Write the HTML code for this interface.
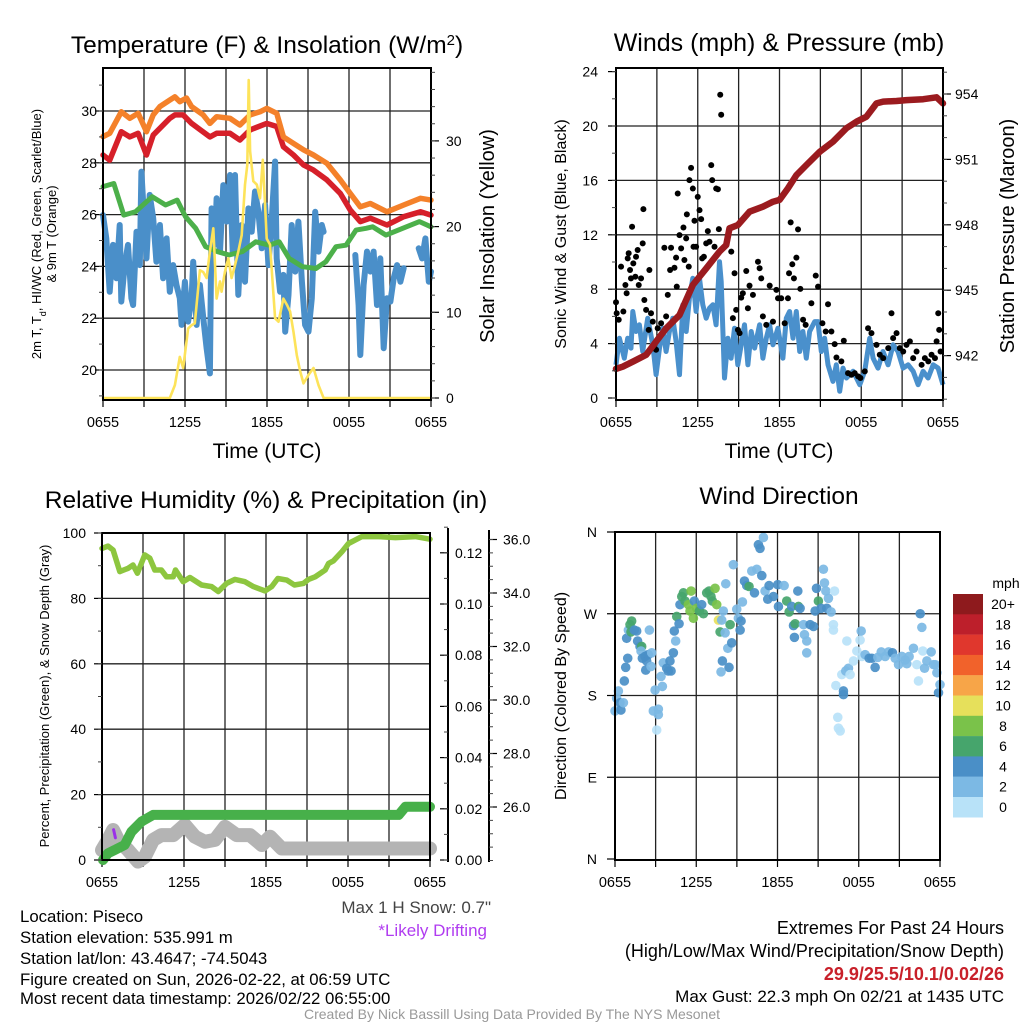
<!DOCTYPE html>
<html><head><meta charset="utf-8"><style>
html,body{margin:0;padding:0;background:#fff;}
svg{display:block;font-family:"Liberation Sans",Arial,sans-serif;}
</style></head><body>
<svg id="chart" width="1024" height="1024" viewBox="0 0 1024 1024" xmlns="http://www.w3.org/2000/svg">
<rect width="1024" height="1024" fill="#fff"/>
<text x="267" y="53" font-size="24.5" text-anchor="middle">Temperature (F) &amp; Insolation (W/m<tspan baseline-shift="super" font-size="15">2</tspan>)</text>
<text x="779" y="51" font-size="25" text-anchor="middle">Winds (mph) &amp; Pressure (mb)</text>
<text x="266" y="508" font-size="24.5" text-anchor="middle">Relative Humidity (%) &amp; Precipitation (in)</text>
<text x="779" y="504" font-size="24.5" text-anchor="middle">Wind Direction</text>
<text x="267" y="458" font-size="21" text-anchor="middle">Time (UTC)</text>
<text x="779" y="458" font-size="21" text-anchor="middle">Time (UTC)</text>
<text font-size="13" text-anchor="middle" transform="translate(41,234) rotate(-90)">2m T, T<tspan baseline-shift="sub" font-size="9">d</tspan>, HI/WC (Red, Green, Scarlet/Blue)</text>
<text font-size="13" text-anchor="middle" transform="translate(56,234) rotate(-90)">&amp; 9m T (Orange)</text>
<text font-size="20" text-anchor="middle" transform="translate(494,236) rotate(-90)">Solar Insolation (Yellow)</text>
<text font-size="16" text-anchor="middle" transform="translate(566,234) rotate(-90)">Sonic Wind &amp; Gust (Blue, Black)</text>
<text font-size="20" text-anchor="middle" transform="translate(1014,236) rotate(-90)">Station Pressure (Maroon)</text>
<text font-size="13" text-anchor="middle" transform="translate(49,696) rotate(-90)">Percent, Precipitation (Green), &amp; Snow Depth (Gray)</text>
<text font-size="16" text-anchor="middle" transform="translate(566,696) rotate(-90)">Direction (Colored By Speed)</text>
<g font-size="16.8">
<text x="20" y="922">Location: Piseco</text>
<text x="20" y="943">Station elevation: 535.991 m</text>
<text x="20" y="964">Station lat/lon: 43.4647; -74.5043</text>
<text x="20" y="985">Figure created on Sun, 2026-02-22, at 06:59 UTC</text>
<text x="20" y="1004">Most recent data timestamp: 2026/02/22 06:55:00</text>
</g>
<text x="491" y="913" font-size="17" fill="#444" text-anchor="end">Max 1 H Snow: 0.7"</text>
<text x="487" y="936" font-size="17" fill="#b03cf0" text-anchor="end">*Likely Drifting</text>
<g font-size="18" text-anchor="end">
<text x="1004" y="934">Extremes For Past 24 Hours</text>
<text x="1004" y="957">(High/Low/Max Wind/Precipitation/Snow Depth)</text>
<text x="1004" y="980" fill="#c8202a" font-weight="bold">29.9/25.5/10.1/0.02/26</text>
<text x="1004" y="1002" font-size="17">Max Gust: 22.3 mph On 02/21 at 1435 UTC</text>
</g>
<text x="512" y="1019" font-size="14" fill="#999" text-anchor="middle">Created By Nick Bassill Using Data Provided By The NYS Mesonet</text>
</svg>
<script>
// ---------- Panel 1: temperature ----------
const xTickLabels = ["0655","1255","1855","0055","0655"];
const orangeT = [0,.49,1.34,1.96,2.57,3.18,3.67,4.16,4.89,5.26,5.62,6.11,6.48,7.33,7.82,8.31,9.29,10.02,10.76,11.49,11.98,12.71,13.2,13.94,14.67,15.4,16.38,17.36,18.09,18.83,19.56,20.78,22.0,23.23,24];
const orangeV = [29.01,29.14,29.97,29.72,29.91,29.2,29.85,30.17,30.42,30.55,30.36,30.5,30.17,29.85,29.52,29.78,29.72,29.46,29.85,29.97,30.1,29.91,29.0,28.75,28.5,28.3,27.98,27.34,26.82,26.3,26.43,26.11,26.37,26.63,26.56];
const redT = [0,.49,1.34,1.96,2.57,3.18,3.67,4.89,5.26,5.87,6.48,7.82,8.31,9.29,10.02,10.76,11.98,12.71,13.2,13.94,14.67,15.4,16.38,17.36,18.09,18.83,19.56,20.78,22.0,23.23,24];
const redV = [28.3,28.1,29.2,29.0,29.14,28.3,29.07,29.72,29.85,29.85,29.52,29.0,29.14,29.14,28.88,29.27,29.52,29.4,28.62,28.3,27.92,27.72,27.34,26.82,26.18,25.73,25.86,25.6,25.92,26.11,25.98];
const greenT = [0,.79,1.52,2.37,3.6,4.58,5.43,6.04,6.78,7.51,8.37,9.22,10.2,11.18,12.16,12.89,13.62,14.6,15.58,16.31,17.05,17.78,18.51,19.25,19.73,20.71,21.93,23.16,24];
const greenV = [27.08,27.2,25.98,26.11,26.69,26.37,26.56,25.92,25.47,24.76,24.57,24.44,24.57,24.95,24.82,24.95,24.31,23.99,23.92,24.18,24.76,24.82,25.4,25.47,25.53,25.21,25.47,25.73,25.53];
const blueT = [0,.24,.49,.73,.98,1.22,1.34,1.59,1.83,2.08,2.2,2.45,2.69,2.81,2.98,3.18,3.42,3.67,3.91,4.16,4.4,4.65,4.89,5.13,5.38,5.62,5.75,5.99,6.23,6.48,6.6,6.85,7.09,7.34,7.58,7.82,7.95,8.19,8.31,8.56,8.8,9.05,9.29,9.49,9.66,9.9,10.15,10.39,10.64,10.88,11.12,11.37,11.61,11.86,12.1,12.35,12.59,12.71,12.96,13.2,13.33,13.57,13.81,14.06,14.3,14.55,14.79,15.04,15.28,15.53,15.77,16.01,16.14,17.3,18.46,18.7,18.83,19.07,19.32,19.56,19.8,20.05,20.29,20.54,20.78,21.03,21.27,21.52,21.76,22.0,22.5,23.1,23.35,23.59,23.84,24];
const blueV = [25.98,25.08,23.02,24.83,23.54,25.6,22.64,24.05,24.83,22.77,22.51,25.34,24.05,27.66,26.11,24.31,26.76,25.86,24.18,25.6,23.54,25.08,23.02,24.05,23.28,22.77,21.74,23.41,21.87,22.77,24.18,21.74,23.28,22.0,20.84,19.87,26.24,24.83,26.63,24.57,27.14,25.73,27.53,24.57,27.53,22.9,25.6,23.41,26.24,25.34,26.89,26.11,24.7,26.37,24.05,25.86,28.05,24.31,23.02,23.67,21.48,22.9,25.6,23.8,25.73,23.41,21.74,21.48,22.77,26.11,24.57,25.6,25.34,null,24.44,22.51,20.58,23.28,24.57,23.8,24.57,22.51,24.31,20.84,22.77,22.64,23.54,24.05,23.41,23.93,null,24.7,24.31,25.08,23.41,23.8];
const solarT = [0,4.89,5.26,5.62,5.87,6.23,6.48,6.72,7.09,7.33,7.58,7.82,8.07,8.31,8.56,8.68,8.92,9.17,9.41,9.66,9.9,10.15,10.39,10.56,10.66,10.76,11.0,11.25,11.49,11.69,11.86,11.98,12.22,12.59,12.84,13.2,13.45,13.69,13.94,14.18,14.43,14.67,15.04,15.4,15.77,16.14,24];
const solarV = [0,0,1.5,4.8,3.5,8.1,8.5,8.7,14.9,14.7,14.0,17.1,19.8,11.6,13.6,12.4,14.7,16.3,14.0,15.5,17.1,19.0,24.9,27.2,37.1,28.8,25.3,24.9,23.3,27.8,22.5,18.6,17.9,9.3,8.9,11.6,10.9,10.1,7.7,5.0,3.1,1.7,2.7,3.5,1.5,0,0];
const tempTicks = [20,22,24,26,28,30];
const solarTicks = [0,10,20,30];
// ---------- Panel 2: wind ----------
const windT = [0,.25,.61,.86,1.1,1.23,1.47,1.72,1.96,2.33,2.7,2.94,3.19,3.43,3.68,3.92,4.17,4.41,4.66,4.9,5.15,5.39,5.64,5.88,6.13,6.37,6.62,6.86,7.11,7.35,7.6,7.72,7.96,8.21,8.45,8.7,8.94,9.19,9.43,9.68,9.92,10.17,10.54,10.78,11.03,11.27,11.52,11.88,12.25,12.5,12.74,12.99,13.23,13.48,13.72,13.97,14.21,14.58,14.82,15.07,15.31,15.56,15.93,16.17,16.42,16.66,16.91,17.4,17.89,18.25,18.62,18.87,19.23,19.6,19.97,20.34,20.7,21.07,21.44,21.81,22.17,22.54,22.91,23.28,23.64,24];
const windV = [2.44,4.4,2.93,4.4,3.67,6.36,4.89,5.38,3.42,5.87,3.91,1.71,3.67,5.13,3.42,4.89,5.87,4.16,1.71,6.85,4.89,7.33,8.8,6.36,8.8,6.85,5.87,6.6,6.85,5.38,10.02,8.56,1.47,4.4,2.93,5.13,2.44,3.91,5.38,2.44,4.89,3.67,5.38,2.93,4.4,5.38,3.91,5.13,2.93,5.87,6.36,4.4,6.36,3.42,4.89,2.93,4.89,5.62,5.62,3.42,4.4,2.44,1.22,2.44,0.49,2.2,1.47,1.96,0.98,1.96,4.4,2.93,2.2,3.42,2.44,3.91,3.42,2.2,2.44,1.96,0.98,1.96,1.47,2.44,2.2,0.98];
const gustT = [0,.05,.2,.37,.54,.69,.78,.86,.93,1.03,
1.1,1.18,1.27,1.42,1.47,1.59,1.67,1.84,1.96,2.01,
2.08,2.21,2.4,2.45,2.57,2.7,2.94,3.06,3.31,3.55,
3.68,3.8,3.97,4.04,4.29,4.41,4.46,4.53,4.66,4.78,
4.95,5.02,5.15,5.2,5.34,5.39,5.51,5.64,5.69,5.76,
5.88,6.0,6.13,6.25,6.32,6.45,6.62,6.74,6.86,6.99,
7.06,7.23,7.35,7.48,7.55,7.65,7.72,8.46,8.7,8.58,
8.82,8.95,9.07,9.19,9.31,9.56,9.68,9.8,10.05,10.42,
10.54,10.66,10.78,11.03,11.28,11.52,11.77,11.89,12.13,12.38,
12.62,12.7,12.82,12.94,13.06,13.24,13.36,13.53,13.73,13.92,
14.34,14.66,14.83,15.15,15.39,15.56,15.81,16.05,16.18,16.54,
16.72,17.03,17.28,17.52,17.77,17.94,18.26,18.5,18.75,19.12,
19.36,19.61,19.98,20.22,20.34,20.59,20.83,21.08,21.32,21.57,
21.81,22.06,22.43,22.67,22.92,23.16,23.41,23.53,23.65,23.72,
23.82];
const gustV = [7.04,6.23,5.75,9.66,6.36,8.31,7.7,10.27,10.64,9.41,
8.8,12.59,9.9,8.92,10.39,10.88,8.31,8.8,11.37,13.89,
7.21,6.48,5.01,9.41,6.23,5.62,3.55,5.13,5.5,11.05,
6.0,7.58,9.41,11.05,9.58,10.32,8.19,15.04,11.98,11.0,
12.54,10.15,11.74,13.5,9.66,16.02,16.92,15.4,11.12,13.03,
11.12,14.79,13.81,13.15,10.27,10.39,11.37,12.27,11.49,17.12,
16.02,11.12,15.4,15.35,12.42,22.3,20.83,10.76,9.17,5.87,
6.48,5.01,4.77,7.38,7.7,9.34,6.6,8.26,7.58,10.02,
9.54,8.8,6.0,5.38,8.26,5.62,7.95,7.33,7.33,5.5,
7.33,9.17,12.91,9.83,8.8,10.32,12.4,8.02,5.75,5.38,
6.97,9.0,8.19,5.5,4.89,6.89,4.89,3.96,2.98,2.69,
4.21,1.83,1.71,1.83,1.59,1.47,1.96,5.13,4.77,3.91,
3.18,2.93,3.67,6.23,4.4,4.77,3.67,3.42,3.91,4.16,
2.93,3.42,2.44,2.93,2.69,3.18,2.93,4.16,6.23,5.01,
3.42];
const presT = [0,.49,1.23,2.21,2.94,3.68,4.66,5.64,6.62,7.6,8.09,8.33,8.95,9.8,10.78,11.52,12.01,12.62,13.24,13.97,14.95,15.93,16.91,17.65,18.38,19.12,19.61,20.59,21.32,22.55,23.53,24];
const presV = [941.39,941.49,941.72,942.03,942.64,943.25,943.86,945.24,946.0,946.77,947.07,947.84,947.99,948.6,948.83,949.06,949.14,949.67,950.28,950.74,951.35,951.81,952.43,952.73,952.96,953.57,953.65,953.68,953.72,953.76,953.85,953.57];
const windTicks = [0,4,8,12,16,20,24];
const presTicks = [942,945,948,951,954];
// ---------- Panel 3: RH / precip / snow ----------
const rhT = [0,.44,.81,1.3,1.91,2.27,2.59,3.13,3.5,3.86,4.35,4.72,5.21,5.38,5.94,6.43,7.29,8.02,8.51,9.12,9.73,10.46,11.08,11.93,12.42,12.86,13.52,14.08,14.74,15.11,15.6,16.33,16.58,16.94,17.56,18.04,19.02,20.24,21.47,22.93,24];
const rhV = [95.3,96,94.8,88.2,89.2,90.2,87.7,93.3,92.3,88.7,88.7,86.6,86.6,88.7,85.1,86.4,84.1,83.6,82.1,84.6,85.8,85.1,83.6,82.3,83.6,86.1,85.6,84.1,84.6,85.8,86.6,88.7,90.7,91.5,94.3,96.8,98.9,98.9,98.6,98.9,98.1];
const precipT = [0.07,.44,.93,1.66,2.15,2.89,3.74,21.71,22.2,24];
const precipV = [0,.0026,.0039,.0059,.011,.015,.0176,.0176,.0208,.0208];
const snowT = [0,.44,.81,1.17,1.91,2.64,3.13,3.74,4.35,5.21,6.06,6.8,7.53,8.26,9.0,9.85,10.83,11.69,12.3,13.15,24];
const snowV = [24.39,24.77,25.14,24.77,24.39,23.96,24.14,24.77,24.95,24.95,25.33,24.89,24.7,24.77,25.26,24.95,24.95,24.58,24.89,24.45,24.45];
const driftT = [0.85,0.98];
const driftV = [25.15,24.85];
const rhTicks = [0,20,40,60,80,100];
const precipTicks = [0,0.02,0.04,0.06,0.08,0.10,0.12];
const snowTicks = [26,28,30,32,34,36];
// ---------- Panel 4: wind direction ----------
const dirT = [0,.12,.25,.37,.44,.62,.69,.79,.94,.86,
.99,1.11,1.23,1.18,1.43,1.6,1.67,1.85,1.97,1.92,
2.02,2.22,2.34,2.46,2.27,2.71,2.66,2.54,2.96,2.83,
3.2,3.2,3.08,3.4,3.5,3.57,3.82,3.94,4.14,4.06,
4.31,4.38,4.48,4.56,4.73,4.8,4.93,5.05,5.17,5.42,
5.62,5.54,5.79,5.86,6.03,6.23,6.4,6.53,6.77,6.95,
7.09,7.19,7.39,7.51,7.64,7.76,7.88,8.0,8.13,8.18,
8.33,8.42,8.5,8.62,8.74,7.83,7.93,8.99,9.11,9.24,
9.31,9.41,9.56,9.73,9.9,10.1,10.3,10.47,10.59,10.71,
10.96,10.84,11.08,11.28,11.38,11.7,12.02,12.07,12.49,12.68,
12.86,13.05,13.18,13.25,13.3,13.5,13.55,13.67,13.92,13.99,
14.16,14.16,14.41,14.66,14.78,14.88,15.02,15.22,15.39,15.47,
15.57,15.64,15.76,15.96,16.13,16.21,16.13,16.31,16.45,16.5,
16.63,16.75,16.87,16.87,17.04,17.24,17.12,17.36,17.61,17.86,
18.1,18.18,18.23,18.47,18.77,18.97,19.21,19.41,19.66,19.95,
20.2,20.49,20.69,20.94,21.18,21.43,21.55,21.72,22.04,22.29,
22.41,22.54,22.66,22.73,22.86,23.03,23.35,23.52,23.65,23.77,
23.89,24];
const dirV = [163,177,185,172,164,172,196,211,221,243,
252,258,262,250,252,251,240,234,234,229,
221,223,218,225,208,227,212,252,186,163,
165,159,142,201,190,216,210,207,207,218,
227,251,240,267,259,280,289,293,284,280,
295,273,265,284,276,273,280,270,293,295,
289,284,298,280,263,250,263,273,249,303,
232,211,258,238,324,206,218,275,265,252,
262,283,306,301,300,317,293,319,346,342,
354,312,295,286,301,289,302,278,301,284,
272,278,257,244,259,295,278,276,258,247,
240,227,258,256,273,298,284,276,319,304,
295,276,287,272,258,295,252,191,156,144,
141,203,185,181,207,210,240,203,218,229,
241,251,223,225,221,221,211,222,228,223,
228,227,221,214,223,219,215,223,232,214,
196,270,255,229,210,218,228,214,214,205,
183,192];
const dirSpd = [3,3,2,4,4,2,4,4,4,4,
2,6,7,6,4,4,4,4,6,3,
4,4,4,4,4,2,2,2,2,2,
2,2,1,2,2,3,4,4,4,4,
4,4,3,6,4,4,6,6,6,8,
8,8,8,4,8,6,4,6,6,6,
6,6,8,8,10,6,3,2,2,2,
2,4,6,4,2,2,4,2,2,4,
4,2,4,4,6,2,4,2,4,4,
2,4,2,4,4,4,4,4,2,6,
6,4,4,4,6,4,6,4,2,2,
2,2,4,4,4,4,6,4,2,2,
2,4,2,2,1,1,1,1,1,1,
1,1,4,4,2,2,1,1,1,1,
1,2,1,2,4,4,4,2,2,2,
2,4,2,2,2,2,2,2,2,1,
1,4,2,1,2,2,2,2,2,2,
4,2];
const dirTicks = ["N","E","S","W","N"];
const cbLabels = ["20+","18","16","14","12","10","8","6","4","2","0"];
const cbColors = ["#8e1a1d","#bd1f2b","#e0372d","#f1622b","#f7a548","#e6e05b","#7ac24a","#46a56c","#4a8fc7","#7cb9e4","#b8e2f8"];

const NS = "http://www.w3.org/2000/svg";
const svg = document.getElementById("chart");
function mk(tag, attrs, parent) {
  const e = document.createElementNS(NS, tag);
  for (const k in attrs) e.setAttribute(k, attrs[k]);
  (parent || svg).appendChild(e);
  return e;
}
function linePath(ts, vs, sx, sy) {
  let d = "", pen = false;
  for (let i = 0; i < ts.length; i++) {
    if (vs[i] === null || vs[i] === undefined) { pen = false; continue; }
    d += (pen ? "L" : "M") + sx(ts[i]).toFixed(1) + "," + sy(vs[i]).toFixed(1);
    pen = true;
  }
  return d;
}
function frame(name, x0, x1, y0, y1, hLines) {
  const g = mk("g", {});
  
  
  for (let h = 3; h < 24; h += 3) {
    const x = x0 + (x1 - x0) * h / 24;
    const ln = mk("line", {x1: x, x2: x, y1: y0, y2: y1, stroke: "#222", "stroke-width": 1.3}, g);
    
    
  }
  hLines.forEach(y => {
    const ln = mk("line", {x1: x0, x2: x1, y1: y, y2: y, stroke: "#222", "stroke-width": 1.3}, g);
    
    
  });
  for (let h = 0; h <= 24; h += 3) {
    const x = x0 + (x1 - x0) * h / 24;
    mk("line", {x1: x, x2: x, y1: y1, y2: y1 + 7, stroke: "#000", "stroke-width": 1.2}, g);
  }
  xTickLabels.forEach((lab, i) => {
    const t = mk("text", {x: x0 + (x1 - x0) * i / 4, y: y1 + 27, "font-size": 14.5, "text-anchor": "middle"}, g);
    
    
    t.textContent = lab;
  });
  return g;
}
function border(x0, x1, y0, y1) {
  const r = mk("rect", {x: x0, y: y0, width: x1 - x0, height: y1 - y0, fill: "none", stroke: "#000", "stroke-width": 2});
  
  
}
function yAxisTicks(name, xAxis, dir, ticks, sy, fmt, minorStep, lo, hi, labX, anchor) {
  const g = mk("g", {});
  
  
  ticks.forEach(v => {
    const y = sy(v);
    mk("line", {x1: xAxis, x2: xAxis + dir * 8, y1: y, y2: y, stroke: "#000", "stroke-width": 1.2}, g);
    const t = mk("text", {x: labX, y: y + 5, "font-size": 14, "text-anchor": anchor}, g);
    
    
    t.textContent = fmt(v);
  });
  if (minorStep) {
    for (let v = lo; v <= hi + 1e-9; v += minorStep) {
      const y = sy(v);
      mk("line", {x1: xAxis, x2: xAxis + dir * 4, y1: y, y2: y, stroke: "#444", "stroke-width": 1}, g);
    }
  }
}

// ===== Panel 1 =====
(function () {
  const x0 = 103, x1 = 431, y0 = 68, y1 = 400;
  const sx = h => x0 + (x1 - x0) * h / 24;
  const sy = v => 111 + (30 - v) * 25.9;
  const sS = v => 398 - v * 8.57;
  frame("temp", x0, x1, y0, y1, tempTicks.map(sy));
  const series = [["solar-line", solarT, solarV, sS, "#fde35a", 2.6], ["blue-hiwc-line", blueT, blueV, sy, "#4a8fc9", 6],
    ["green-dewpoint-line", greenT, greenV, sy, "#4cb04a", 5], ["orange-9m-temp-line", orangeT, orangeV, sy, "#f4812a", 5.5],
    ["red-2m-temp-line", redT, redV, sy, "#d6202a", 5.5]];
  const order = [1, 2, 4, 3, 0];
  order.forEach(i => {
    const s = series[i];
    const p = mk("path", {d: linePath(s[1], s[2], sx, s[3]), fill: "none", stroke: s[4], "stroke-width": s[5], "stroke-linejoin": "round", "stroke-linecap": "round"});
    
    
  });
  border(x0, x1, y0, y1);
  yAxisTicks("temp-y-axis", x0, -1, tempTicks, sy, v => String(v), 1, 19, 31, 97, "end");
  yAxisTicks("solar-y-axis", x1, 1, solarTicks, sS, v => String(v), 2, 0, 38, 446, "start");
})();

// ===== Panel 2 =====
(function () {
  const x0 = 616, x1 = 943, y0 = 68, y1 = 400;
  const sx = h => x0 + (x1 - x0) * h / 24;
  const sy = v => 398 - v * 13.6;
  const sP = p => 94 + (954 - p) * 21.8;
  frame("wind", x0, x1, y0, y1, windTicks.slice(1, 6).map(sy));
  const w = mk("path", {d: linePath(windT, windV, sx, sy), fill: "none", stroke: "#4a90cc", "stroke-width": 5, "stroke-linejoin": "round"});
  
  
  const gg = mk("g", {});
  
  
  const n = Math.min(gustT.length, gustV.length);
  for (let i = 0; i < n; i++) {
    const c = mk("circle", {cx: sx(gustT[i]), cy: sy(gustV[i]), r: 3, fill: "#000"}, gg);
    
    
  }
  const p = mk("path", {d: linePath(presT, presV, sx, sP), fill: "none", stroke: "#9b1b1f", "stroke-width": 6.5, "stroke-linejoin": "round", "stroke-linecap": "round"});
  
  
  border(x0, x1, y0, y1);
  yAxisTicks("wind-y-axis", x0, -1, windTicks, sy, v => String(v), 2, 0, 24, 598, "end");
  yAxisTicks("pressure-y-axis", x1, 1, presTicks, sP, v => String(v), 1, 940, 955, 955, "start");
})();

// ===== Panel 3 =====
(function () {
  const x0 = 102, x1 = 430, y0 = 533, y1 = 860;
  const sx = h => x0 + (x1 - x0) * h / 24;
  const sy = v => 860 - v * 3.27;
  const sPr = p => 860 - p * 2560;
  const sSn = s => 860.5 - (s - 24) * 26.75;
  frame("rh", x0, x1, y0, y1, rhTicks.slice(1, 5).map(sy));
  const g1 = mk("path", {d: linePath(snowT, snowV, sx, sSn), fill: "none", stroke: "#b4b4b4", "stroke-width": 14, "stroke-linejoin": "round", "stroke-linecap": "round"});
  
  
  const g2 = mk("path", {d: linePath(precipT, precipV, sx, sPr), fill: "none", stroke: "#47b04a", "stroke-width": 10, "stroke-linejoin": "round", "stroke-linecap": "round"});
  
  
  const g3 = mk("path", {d: linePath(driftT, driftV, sx, sSn), fill: "none", stroke: "#9b30e8", "stroke-width": 3, "stroke-linecap": "round"});
  
  
  const g4 = mk("path", {d: linePath(rhT, rhV, sx, sy), fill: "none", stroke: "#8dc63f", "stroke-width": 5.5, "stroke-linejoin": "round", "stroke-linecap": "round"});
  
  
  border(x0, x1, y0, y1);
  yAxisTicks("rh-y-axis", x0, -1, rhTicks, sy, v => String(v), 10, 0, 100, 86, "end");
  const a1 = mk("line", {x1: 448, x2: 448, y1: 528, y2: 862, stroke: "#000", "stroke-width": 2});
  
  
  yAxisTicks("precip-y-axis", 448, -1, precipTicks, sPr, v => v.toFixed(2), 0.01, 0, 0.13, 455, "start");
  const a2 = mk("line", {x1: 489, x2: 489, y1: 530, y2: 862, stroke: "#000", "stroke-width": 2});
  
  
  yAxisTicks("snow-y-axis", 489, 1, snowTicks, sSn, v => v.toFixed(1), 0.5, 24, 36.4, 503, "start");
})();

// ===== Panel 4 =====
(function () {
  const x0 = 615, x1 = 940, y0 = 532, y1 = 860;
  const sx = h => x0 + (x1 - x0) * h / 24;
  const sy = d => 859 - d * (327 / 360);
  frame("dir", x0, x1, y0, y1, [90, 180, 270].map(sy));
  const colorFor = s => cbColors[10 - Math.min(10, Math.floor(s / 2))];
  const gd = mk("g", {});
  
  
  const n = Math.min(dirT.length, dirV.length, dirSpd.length);
  for (let i = 0; i < n; i++) {
    const c = mk("circle", {cx: sx(dirT[i]), cy: sy(dirV[i]), r: 4.8, fill: colorFor(dirSpd[i]), "fill-opacity": 0.92}, gd);
    
    
  }
  border(x0, x1, y0, y1);
  dirTicks.forEach((lab, i) => {
    const y = sy(i * 90);
    mk("line", {x1: x0, x2: x0 - 8, y1: y, y2: y, stroke: "#000", "stroke-width": 1.2});
    const t = mk("text", {x: 597, y: y + 5, "font-size": 14, "text-anchor": "end"});
    
    
    t.textContent = lab;
  });
  const cb = mk("g", {});
  
  
  const mt = mk("text", {x: 1006, y: 588, "font-size": 14, "text-anchor": "middle"}, cb);
  
  
  mt.textContent = "mph";
  cbLabels.forEach((lab, i) => {
    const r = mk("rect", {x: 953, y: 594 + i * 20.3, width: 30, height: 20.5, fill: cbColors[i]}, cb);
    
    
    const t = mk("text", {x: 1003, y: 609 + i * 20.3, "font-size": 14, "text-anchor": "middle"}, cb);
    
    
    t.textContent = lab;
  });
})();
</script>
</body></html>
